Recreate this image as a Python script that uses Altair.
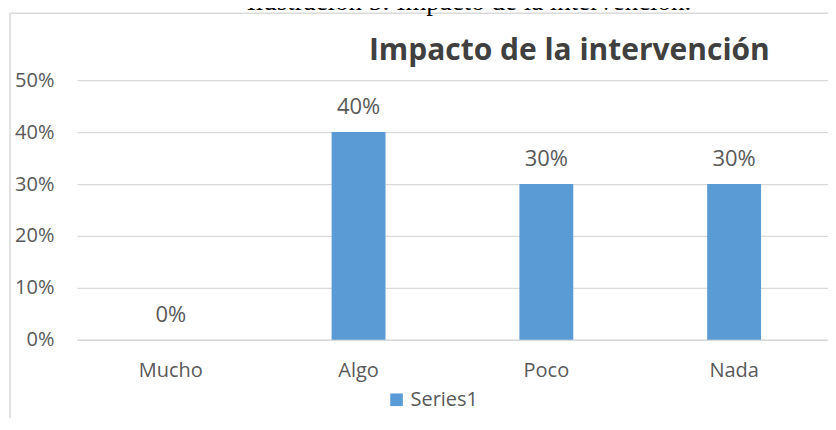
import altair as alt
import pandas as pd

categorias = ["Mucho", "Algo", "Poco", "Nada"]
valores = [0.0, 0.40, 0.30, 0.30]
serie = ["Series1", "Series1", "Series1", "Series1"]
ticks_y = [0, 0.1, 0.2, 0.3, 0.4, 0.5]
titulo = "Impacto de la intervención"
leyenda_doc = "Ilustración 5: Impacto de la intervención."

df = pd.DataFrame({"categoria": categorias, "valor": valores, "serie": serie})

FONT = "Open Sans"
GRAY = "#595959"
GRID = "#D9D9D9"
BLUE = "#5B9BD5"

x_enc = alt.X(
    "categoria:N",
    sort=categorias,
    scale=alt.Scale(paddingInner=0.713, paddingOuter=0.3565),
    axis=alt.Axis(title=None, labelAngle=0, ticks=False, domain=True,
                  domainColor=GRID, domainWidth=1.5, labelPadding=21,
                  labelFont=FONT, labelFontSize=20, labelColor=GRAY),
)
y_enc = alt.Y(
    "valor:Q",
    scale=alt.Scale(domain=[0, 0.5]),
    axis=alt.Axis(title=None, values=ticks_y, format=".0%", domain=False,
                  ticks=False, grid=True, gridColor=GRID, gridWidth=1.3,
                  labelPadding=23, labelFont=FONT, labelFontSize=20,
                  labelColor=GRAY),
)

bars = alt.Chart(df).mark_bar(color=BLUE).encode(
    x=x_enc,
    y=y_enc,
    color=alt.Color(
        "serie:N",
        scale=alt.Scale(range=[BLUE]),
        legend=alt.Legend(orient="none", legendX=310, legendY=310, title=None,
                          symbolType="square", symbolSize=160,
                          symbolStrokeWidth=0, labelFont=FONT,
                          labelFontSize=20, labelColor=GRAY, labelOffset=4),
    ),
)

labels = alt.Chart(df).mark_text(
    font=FONT, fontSize=22, color=GRAY, baseline="alphabetic", dy=-18
).encode(
    x=alt.X("categoria:N", sort=categorias),
    y="valor:Q",
    text=alt.Text("valor:Q", format=".0%"),
)

one = alt.Data(values=[{"k": 1}])

title_txt = alt.Chart(one).mark_text(
    font=FONT, fontSize=30, fontWeight="bold", color="#404040",
    align="center", baseline="alphabetic"
).encode(x=alt.value(493), y=alt.value(-20), text=alt.value(titulo))

caption = alt.Chart(one).mark_text(
    font="Liberation Serif", fontSize=27, color="#000000",
    align="left", baseline="alphabetic"
).encode(x=alt.value(170), y=alt.value(-70), text=alt.value(leyenda_doc))

border_top = alt.Chart(one).mark_rule(color=GRID, strokeWidth=1.5).encode(
    x=alt.value(-67), x2=alt.value(760), y=alt.value(-67)
)
border_left = alt.Chart(one).mark_rule(color=GRID, strokeWidth=1.5).encode(
    x=alt.value(-67), y=alt.value(-67), y2=alt.value(340)
)

chart = alt.layer(
    border_top, border_left, caption, bars, labels, title_txt
).properties(
    width=752, height=260,
    autosize=alt.AutoSizeParams(type="none"),
    padding={"left": 69, "top": 72, "right": 0, "bottom": 78},
).configure_view(stroke=None)

chart.save("out.html", embed_options={"renderer": "svg", "actions": False})
